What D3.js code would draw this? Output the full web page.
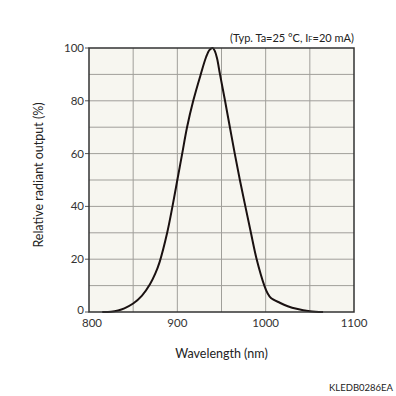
<!DOCTYPE html>
<html lang="en">
  <head>
    <meta charset="UTF-8" />
    <title>Relative radiant output vs wavelength</title>
    <style>
      body { margin: 0; background: #fff; }
      svg { display: block; font-family: Lato, "Open Sans", sans-serif; }
      .grid line { stroke: #a09f9a; stroke-width: 1; }
      .tick-label { fill: #333; font-size: 11.5px; }
      .data-line { fill: none; stroke: #1a1111; stroke-width: 2; }
    </style>
  </head>
  <body>
    <script src="https://cdn.jsdelivr.net/npm/d3@7"></script>
    <script>

      // values
      var wavelength = [815, 825, 833, 840, 850, 860, 869, 875, 880, 888.5, 894.5, 900, 905.5, 911, 918, 926.5, 932.5, 936.5, 940,
                        942.5, 945, 948.3, 954, 959.5, 965, 970.8, 977, 983.3, 989.8, 998.5, 1002, 1006, 1016, 1025, 1035, 1050, 1065];
      var output = [0, 0.1, 0.6, 1.4, 3.2, 6.2, 10.5, 14.5, 19, 30, 40, 50, 60, 70, 80, 90, 96.5, 99.3, 100,
                    98.8, 96, 90, 80, 70, 60, 50, 40, 30, 20, 10, 7.2, 5.3, 3.5, 2.2, 1.2, 0.3, 0];

      var xTicks = [800, 900, 1000, 1100];
      var yTicks = [0, 20, 40, 60, 80, 100];
      var xGrid = [850, 900, 950, 1000, 1050];
      var yGrid = [10, 20, 30, 40, 50, 60, 70, 80, 90];

      var w = 396, h = 396;
      var margin = { top: 48, right: 42, bottom: 84, left: 89 };
      var pw = w - margin.left - margin.right;
      var ph = h - margin.top - margin.bottom;

      var svg = d3.select("body").append("svg")
                  .attr("width", w)
                  .attr("height", h);

      var xScale = d3.scaleLinear().domain([800, 1100]).range([0, pw]);
      var yScale = d3.scaleLinear().domain([0, 100]).range([ph, 0]);

      var g = svg.append("g")
                 .attr("transform", "translate(" + margin.left + "," + margin.top + ")");

      g.append("rect")
       .attr("width", pw)
       .attr("height", ph)
       .attr("fill", "#f7f6f0");

      var grid = g.append("g").attr("class", "grid");
      grid.selectAll(".vx")
          .data(xGrid)
          .enter()
          .append("line")
          .attr("x1", function(d) { return xScale(d); })
          .attr("x2", function(d) { return xScale(d); })
          .attr("y1", 0)
          .attr("y2", ph);
      grid.selectAll(".hy")
          .data(yGrid)
          .enter()
          .append("line")
          .attr("x1", 0)
          .attr("x2", pw)
          .attr("y1", function(d) { return yScale(d); })
          .attr("y2", function(d) { return yScale(d); });

      // small ticks on the left side
      g.selectAll(".ytick")
       .data(yTicks)
       .enter()
       .append("line")
       .attr("x1", -4)
       .attr("x2", 0)
       .attr("y1", function(d) { return yScale(d); })
       .attr("y2", function(d) { return yScale(d); })
       .style("stroke", "#555")
       .style("stroke-width", 1);

      var pts = wavelength.map(function(d, i) { return { wl: d, v: output[i] }; });

      var line = d3.line()
                   .x(function(d) { return xScale(d.wl); })
                   .y(function(d) { return yScale(d.v); })
                   .curve(d3.curveCatmullRom.alpha(0.5));

      g.append("path")
       .datum(pts)
       .attr("class", "data-line")
       .attr("d", line);

      g.append("rect")
       .attr("width", pw)
       .attr("height", ph)
       .attr("fill", "none")
       .attr("stroke", "#333")
       .attr("stroke-width", 1.5);

      g.selectAll(".ylab")
       .data(yTicks)
       .enter()
       .append("text")
       .attr("class", "tick-label")
       .attr("x", -5)
       .attr("y", function(d) { return yScale(d) + (d == 0 ? 1.5 : 4); })
       .attr("text-anchor", "end")
       .text(function(d) { return d; });

      g.selectAll(".xlab")
       .data(xTicks)
       .enter()
       .append("text")
       .attr("class", "tick-label")
       .attr("x", function(d) { return xScale(d) + (d == 800 ? 3 : 0); })
       .attr("y", ph + 15)
       .attr("text-anchor", "middle")
       .text(function(d) { return d; });

      svg.append("text")
         .attr("transform", "translate(43,175) rotate(-90)")
         .attr("text-anchor", "middle")
         .style("font-size", "12.5px")
         .style("fill", "#222")
         .text("Relative radiant output (%)");

      svg.append("text")
         .attr("x", margin.left + pw / 2)
         .attr("y", 358)
         .attr("text-anchor", "middle")
         .style("font-size", "12.5px")
         .style("fill", "#222")
         .text("Wavelength (nm)");

      var cond = svg.append("text")
                    .attr("x", margin.left + pw)
                    .attr("y", 42)
                    .attr("text-anchor", "end")
                    .style("font-size", "11px")
                    .style("fill", "#222");
      cond.append("tspan").text("(Typ. Ta=25 °C, I");
      cond.append("tspan").style("font-size", "7.5px").text("F");
      cond.append("tspan").text("=20 mA)");

      svg.append("text")
         .attr("x", 393)
         .attr("y", 391)
         .attr("text-anchor", "end")
         .style("font-size", "9.5px")
         .style("fill", "#222")
         .text("KLEDB0286EA");

    </script>
  </body>
</html>
